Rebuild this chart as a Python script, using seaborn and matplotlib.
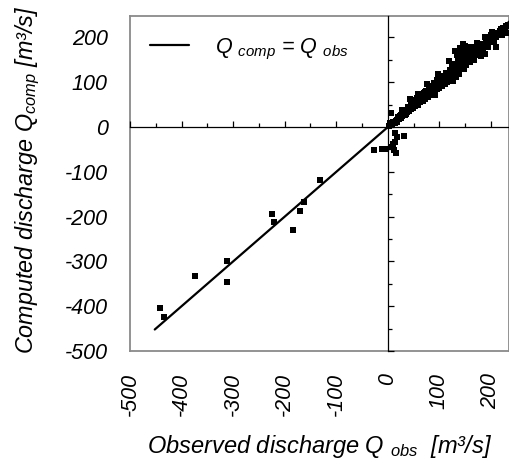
import matplotlib
matplotlib.use("Agg")
import matplotlib.pyplot as plt
from matplotlib.ticker import MultipleLocator, NullFormatter
import seaborn as sns
import pandas as pd

# ---- data ----
obs_neg = [-441, -434, -374, -311, -312, -225, -221, -183, -171, -163, -131]
comp_neg = [-405, -423, -333, -298, -345, -193, -211, -229, -188, -167, -118]

obs_near0 = [-27, -12, -4, 7, 13, 17, 31, 16, 13, 10, 12, 7, 14]
comp_near0 = [-51, -50, -48, -44, -33, -22, -20, -57, -13, -38, -52, 31, 8]

obs_pos = [3, 5, 8, 10, 12, 14, 17, 20, 22, 25, 27, 28, 30, 33, 35, 38, 40, 42, 43, 45,
           48, 50, 52, 55, 58, 59, 60, 63, 65, 68, 70, 72, 75, 76, 78, 80, 83, 85, 88, 90,
           92, 95, 98, 100, 102, 105, 108, 110, 112, 115, 118, 120, 122, 125, 126, 128, 130,
           132, 135, 138, 140, 142, 145, 147, 148, 150, 152, 155, 157, 158, 160, 162, 165,
           168, 170, 173, 175, 178, 180, 185, 189, 189, 192, 195, 200, 202, 205, 209, 210,
           215, 220, 222, 225, 230, 232]
comp_pos = [2, 8, 5, 12, 9, 8, 15, 22, 18, 28, 38, 24, 30, 28, 38, 34, 45, 36, 62, 50,
            42, 55, 46, 60, 50, 74, 62, 55, 70, 58, 75, 62, 80, 96, 68, 85, 72, 92, 76, 98,
            72, 104, 118, 88, 108, 92, 115, 96, 120, 100, 148, 128, 104, 135, 102, 140, 170,
            112, 160, 118, 176, 165, 185, 130, 172, 180, 138, 160, 150, 178, 145, 168, 158,
            150, 164, 187, 160, 170, 158, 175, 164, 202, 185, 178, 205, 213, 190, 179, 200,
            210, 220, 205, 215, 225, 209]

obs_pos2 = [6, 9, 15, 18, 23, 26, 32, 36, 39, 44, 46, 49, 53, 56, 57, 61, 64, 66, 69, 71,
            73, 77, 79, 82, 84, 86, 89, 91, 94, 96, 97, 99, 101, 103, 106, 107, 109, 111,
            113, 116, 117, 119, 121, 123, 124, 127, 129, 131, 133, 134, 136, 137, 139, 141,
            143, 144, 146, 149, 151, 153, 154, 156, 159, 161, 163, 166, 167, 169, 172, 174,
            177, 179, 182, 184, 187, 191, 194, 197, 199, 203, 207, 212, 217, 224, 228, 234]
comp_pos2 = [4, 9, 14, 12, 25, 20, 35, 30, 42, 40, 44, 52, 50, 54, 65, 56, 66, 60, 68, 70,
             78, 74, 78, 80, 86, 80, 88, 84, 90, 86, 100, 94, 100, 96, 104, 98, 108, 104,
             110, 112, 106, 120, 115, 124, 112, 120, 126, 118, 140, 125, 150, 130, 165, 140,
             150, 175, 160, 150, 165, 176, 148, 170, 160, 158, 178, 170, 162, 175, 168, 178,
             180, 176, 172, 185, 180, 195, 192, 200, 190, 200, 210, 205, 215, 222, 218, 228]

line_range = [-452, 240]

x_ticks = [-500, -400, -300, -200, -100, 0, 100, 200]
y_ticks = [-500, -400, -300, -200, -100, 0, 100, 200]

x_label = "Observed discharge Q $_{obs}$  [m³/s]"
y_label = "Computed discharge Q$_{comp}$ [m³/s]"
legend_label = "$Q$ $_{comp}$ = $Q$ $_{obs}$"

# ---- build frames ----
pts = pd.DataFrame({
    "obs": obs_neg + obs_near0 + obs_pos + obs_pos2,
    "comp": comp_neg + comp_near0 + comp_pos + comp_pos2,
})
line_df = pd.DataFrame({"obs": line_range, "comp": line_range})

# ---- style ----
sns.set_theme(style="white")
plt.rcParams["font.family"] = ["Liberation Sans", "DejaVu Sans"]
plt.rcParams["font.style"] = "italic"
plt.rcParams["text.color"] = "black"
plt.rcParams["axes.labelcolor"] = "black"
plt.rcParams["xtick.color"] = "black"
plt.rcParams["ytick.color"] = "black"
plt.rcParams["mathtext.fontset"] = "custom"
plt.rcParams["mathtext.it"] = "Liberation Sans:italic"
plt.rcParams["mathtext.rm"] = "Liberation Sans:italic"

W, H = 509, 461
fig = plt.figure(figsize=(W / 100, H / 100), dpi=100)
pos = [130 / W, 1 - 351 / H, (509 - 130) / W, (351 - 16) / H]
ax = fig.add_axes(pos)

xlim = (-500, 235)
ylim = (-500, 248)

sns.lineplot(data=line_df, x="obs", y="comp", ax=ax, color="black", lw=1.6,
             label=legend_label, zorder=3)
sns.scatterplot(data=pts, x="obs", y="comp", ax=ax, marker="s", s=24,
                color="black", edgecolor="black", linewidth=0, zorder=4)

ax.set_xlim(*xlim)
ax.set_ylim(*ylim)
ax.set_xticks(x_ticks)
ax.set_yticks(y_ticks)
ax.set_xticklabels([str(v) for v in x_ticks], rotation=90, fontsize=15.5,
                   style="italic", color="black")
ax.set_yticklabels([str(v) for v in y_ticks], fontsize=15.5, style="italic", color="black")
ax.tick_params(axis="both", length=0)
ax.tick_params(axis="y", pad=16)
ax.tick_params(axis="x", pad=16)
for lab in ax.get_xticklabels():
    lab.set_verticalalignment("top")
    lab.set_horizontalalignment("center")
for s in ax.spines.values():
    s.set_color("#8a8a8a")
    s.set_linewidth(1.3)
ax.set_xlabel(x_label, fontsize=17, style="italic", labelpad=12, color="black")
ax.set_ylabel(y_label, fontsize=16.8, style="italic", color="black")
ax.yaxis.set_label_coords(-0.232, 0.51)

leg = ax.legend(loc="upper left", frameon=False, fontsize=15.5, handlelength=1.8,
                handletextpad=1.2, bbox_to_anchor=(0.0, 1.0), borderaxespad=0.55)

# overlay axes (not shared) carrying the zero-crossing axis lines with their ticks
ax2 = fig.add_axes(pos)
ax2.patch.set_visible(False)
ax2.set_xlim(*xlim)
ax2.set_ylim(*ylim)
ax2.spines["top"].set_visible(False)
ax2.spines["right"].set_visible(False)
ax2.spines["left"].set_position(("data", 0))
ax2.spines["bottom"].set_position(("data", 0))
for k in ("left", "bottom"):
    ax2.spines[k].set_color("black")
    ax2.spines[k].set_linewidth(0.9)
ax2.xaxis.set_major_locator(MultipleLocator(100))
ax2.xaxis.set_minor_locator(MultipleLocator(50))
ax2.yaxis.set_major_locator(MultipleLocator(100))
ax2.yaxis.set_minor_locator(MultipleLocator(50))
ax2.xaxis.set_major_formatter(NullFormatter())
ax2.yaxis.set_major_formatter(NullFormatter())
ax2.tick_params(which="both", direction="in", color="black", bottom=True, left=True,
                labelbottom=False, labelleft=False, width=0.9)
ax2.tick_params(which="major", length=4)
ax2.tick_params(which="minor", length=3)

fig.savefig("out.png", dpi=100)
